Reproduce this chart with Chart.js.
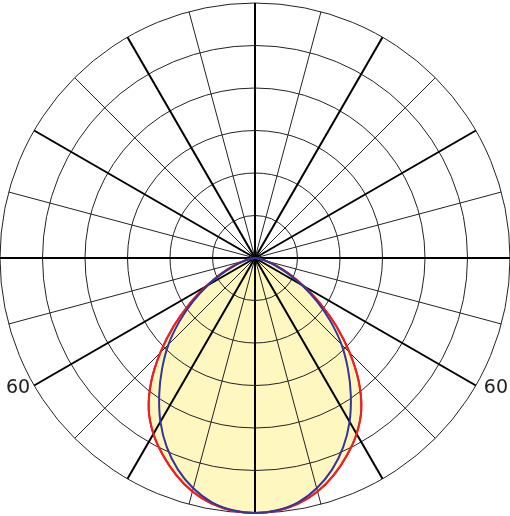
<!DOCTYPE html>
<html>
<head>
<meta charset="utf-8">
<title>Polar intensity</title>
<script src="https://cdn.jsdelivr.net/npm/chart.js@4.4.1/dist/chart.umd.min.js"></script>
<style>
  html, body { margin: 0; padding: 0; background: #fff; }
  #chart { display: block; }
</style>
</head>
<body>
<canvas id="chart" width="510" height="516"></canvas>
<script>
// gamma angles, 5 deg steps (0 = straight down)
const angles = [];
for (let a = 0; a < 360; a += 5) angles.push(a);

// intensity, outer circle = 600
const redValues = [
  600, 597, 587, 569, 543, 512, 478, 436, 380, 315, 250, 188, 132, 88, 54, 28, 12, 3, 0,
  0, 0, 0, 0, 0, 0, 0, 0, 0, 0, 0, 0, 0, 0, 0, 0, 0, 0,
  0, 0, 0, 0, 0, 0, 0, 0, 0, 0, 0, 0, 0, 0, 0, 0, 0,
  0, 3, 12, 28, 54, 88, 132, 188, 250, 315, 380, 436, 478, 512, 543, 569, 587, 597
];
const blueValues = [
  600, 596, 584, 561, 530, 491, 445, 393, 340, 288, 232, 178, 128, 84, 50, 26, 11, 3, 0,
  0, 0, 0, 0, 0, 0, 0, 0, 0, 0, 0, 0, 0, 0, 0, 0, 0, 0,
  0, 0, 0, 0, 0, 0, 0, 0, 0, 0, 0, 0, 0, 0, 0, 0, 0,
  0, 3, 11, 26, 50, 84, 128, 178, 232, 288, 340, 393, 445, 491, 530, 561, 584, 596
];

const sideLabels = ['60', '60'];
const sideLabelAngles = [60, 300];

// grid goes over the fill, so put the curves back on top afterwards
const redrawLines = {
  id: 'redrawLines',
  afterDraw(chart) {
    const ctx = chart.ctx;
    [0, 1].forEach(i => {
      chart.getDatasetMeta(i).dataset.draw(ctx, chart.chartArea);
    });

    const scale = chart.scales.r;
    ctx.save();
    ctx.fillStyle = '#222';
    ctx.font = '19px "DejaVu Sans", sans-serif';
    ctx.textBaseline = 'middle';
    sideLabelAngles.forEach((a, k) => {
      const p = scale.getPointPosition(angles.indexOf(a), scale.drawingArea);
      const left = p.x < scale.xCenter;
      ctx.textAlign = left ? 'right' : 'left';
      ctx.fillText(sideLabels[k], left ? p.x - 4 : p.x + 8, p.y + 3);
    });
    ctx.restore();
  }
};

new Chart(document.getElementById('chart'), {
  type: 'radar',
  data: {
    labels: angles,
    datasets: [
      {
        data: redValues,
        borderColor: '#ee1f23',
        borderWidth: 2,
        backgroundColor: '#fff7c0',
        fill: 'origin',
        tension: 0.3,
        pointRadius: 0
      },
      {
        data: blueValues,
        borderColor: '#33359b',
        borderWidth: 2,
        fill: false,
        tension: 0.3,
        pointRadius: 0
      }
    ]
  },
  options: {
    responsive: false,
    animation: false,
    plugins: {
      legend: { display: false },
      tooltip: { enabled: false }
    },
    scales: {
      r: {
        startAngle: 180,
        min: 0,
        max: 600,
        ticks: { stepSize: 100, display: false, z: 1 },
        grid: { circular: true, color: '#222', lineWidth: 1, z: 1 },
        angleLines: {
          color: c => c.index % 6 === 0 ? '#000' : '#222',
          lineWidth: c => c.index % 6 === 0 ? 2 : (c.index % 3 === 0 ? 1 : 0)
        },
        pointLabels: { display: false }
      }
    }
  },
  plugins: [redrawLines]
});
</script>
</body>
</html>
